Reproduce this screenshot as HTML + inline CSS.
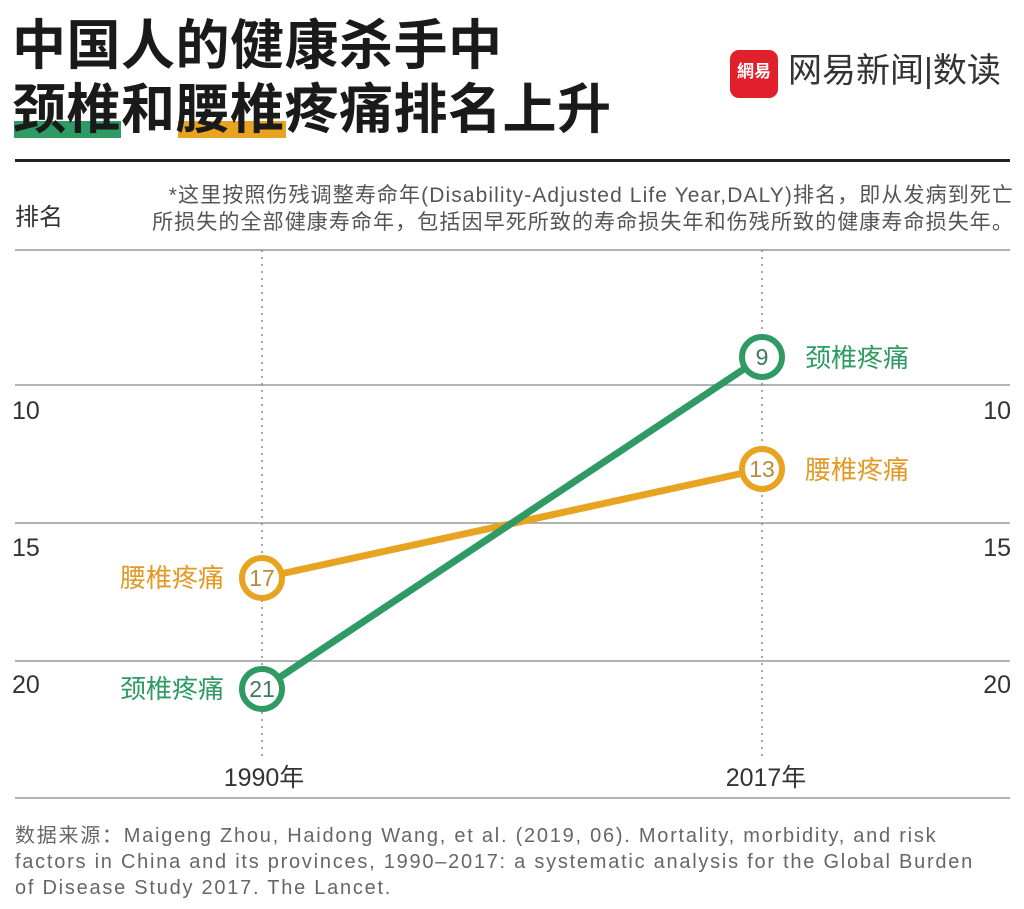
<!DOCTYPE html>
<html><head><meta charset="utf-8"><style>
body{margin:0;background:#fff;width:1024px;height:909px;overflow:hidden;font-family:"Liberation Sans","Noto Sans CJK SC",sans-serif;}
.a{position:absolute;white-space:nowrap;}
</style></head><body>
<div class="a" style="left:14px;top:121px;width:107px;height:17px;background:#2f9a63"></div>
<div class="a" style="left:178px;top:121px;width:108px;height:17px;background:#e8a321"></div>
<div class="a" style="left:12px;top:14px;font-size:54px;font-weight:bold;color:#1a1a1a;line-height:64px;letter-spacing:0.5px">中国人的健康杀手中<br>颈椎和腰椎疼痛排名上升</div>
<div class="a" style="left:730px;top:50px;width:48px;height:48px;background:#e0202a;border-radius:9px;color:#fff;font-size:17px;line-height:44px;text-align:center;font-weight:bold">網易</div>
<div class="a" style="left:788px;top:50px;font-size:34px;color:#333;line-height:42px">网易新闻|数读</div>
<div class="a" style="left:15px;top:159px;width:995px;height:3px;background:#222"></div>
<div class="a" style="left:15px;top:197px;font-size:24px;color:#333">排名</div>
<div class="a" style="left:100px;top:182px;font-size:21px;color:#555;line-height:27px;text-align:right;width:914px;letter-spacing:1.1px">*这里按照伤残调整寿命年(Disability-Adjusted Life Year,DALY)排名，即从发病到死亡<br>所损失的全部健康寿命年，包括因早死所致的寿命损失年和伤残所致的健康寿命损失年。</div>
<svg class="a" style="left:0;top:0" width="1024" height="909">
<g stroke="#999" stroke-width="1.5">
<line x1="15" y1="250" x2="1010" y2="250"/><line x1="15" y1="385" x2="1010" y2="385"/><line x1="15" y1="523" x2="1010" y2="523"/><line x1="15" y1="661" x2="1010" y2="661"/><line x1="15" y1="798" x2="1010" y2="798"/>
</g>
<g stroke="#888" stroke-width="1.5" stroke-dasharray="2,5">
<line x1="262" y1="250" x2="262" y2="760"/><line x1="762" y1="250" x2="762" y2="760"/>
</g>
<line x1="262" y1="578" x2="762" y2="469" stroke="#e8a321" stroke-width="7"/>
<line x1="262" y1="689" x2="762" y2="357" stroke="#2f9a63" stroke-width="7"/>
<g fill="#fff" stroke-width="6">
<circle cx="262" cy="578" r="20" stroke="#e8a321"/><circle cx="762" cy="469" r="20" stroke="#e8a321"/>
<circle cx="262" cy="689" r="20" stroke="#2f9a63"/><circle cx="762" cy="357" r="20" stroke="#2f9a63"/>
</g>
<g font-family="Liberation Sans,Noto Sans CJK SC,sans-serif" font-size="23" text-anchor="middle">
<text x="262" y="586" fill="#b88a3a">17</text><text x="762" y="477" fill="#b88a3a">13</text>
<text x="262" y="697" fill="#3d7a5a">21</text><text x="762" y="365" fill="#3d7a5a">9</text>
</g>
<g font-family="Liberation Sans,Noto Sans CJK SC,sans-serif" font-size="26">
<text x="120" y="587" fill="#e09a25">腰椎疼痛</text><text x="805" y="479" fill="#e09a25">腰椎疼痛</text>
<text x="120" y="698" fill="#2f9a63">颈椎疼痛</text><text x="805" y="367" fill="#2f9a63">颈椎疼痛</text>
</g>
<g font-family="Liberation Sans,Noto Sans CJK SC,sans-serif" font-size="25" fill="#333">
<text x="12" y="419">10</text><text x="12" y="556">15</text><text x="12" y="693">20</text>
<text x="1011" y="419" text-anchor="end">10</text><text x="1011" y="556" text-anchor="end">15</text><text x="1011" y="693" text-anchor="end">20</text>
<text x="264" y="786" text-anchor="middle" font-size="25">1990年</text><text x="766" y="786" text-anchor="middle" font-size="25">2017年</text>
</g>
</svg>
<div class="a" style="left:15px;top:823px;font-size:20px;color:#666;line-height:26px;letter-spacing:1.75px">数据来源：Maigeng Zhou, Haidong Wang, et al. (2019, 06). Mortality, morbidity, and risk<br>factors in China and its provinces, 1990–2017: a systematic analysis for the Global Burden<br>of Disease Study 2017. The Lancet.</div>
</body></html>
